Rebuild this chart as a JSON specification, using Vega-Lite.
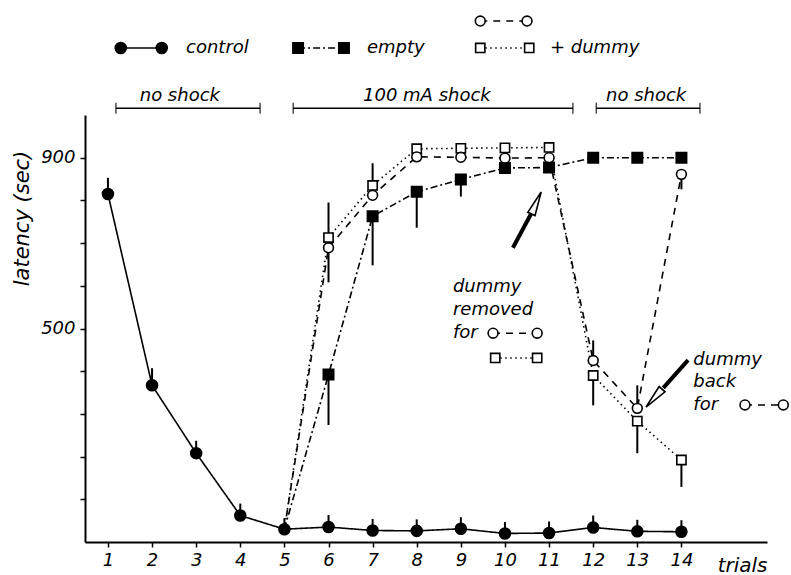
{
  "$schema": "https://vega.github.io/schema/vega-lite/v6.json",
  "width": 682,
  "height": 427,
  "autosize": {"type": "none"},
  "padding": {"left": 85, "top": 115, "right": 24, "bottom": 33},
  "background": "white",
  "config": {
    "view": {"stroke": null},
    "font": "DejaVu Sans",
    "axis": {
      "grid": false,
      "domainColor": "black",
      "domainWidth": 2,
      "tickColor": "black",
      "tickWidth": 1.5,
      "tickSize": 5,
      "labelFont": "DejaVu Sans",
      "labelFontStyle": "italic",
      "labelFontSize": 18,
      "labelColor": "black",
      "titleFont": "DejaVu Sans",
      "titleFontStyle": "italic",
      "titleFontWeight": "normal",
      "titleFontSize": 20,
      "titleColor": "black"
    },
    "text": {"font": "DejaVu Sans", "fontStyle": "italic", "fontSize": 18, "color": "black"}
  },
  "datasets": {
    "series": [
      {"group": "control", "trial": 1, "latency": 815, "err": 853},
      {"group": "control", "trial": 2, "latency": 367, "err": 407},
      {"group": "control", "trial": 3, "latency": 208, "err": 237},
      {"group": "control", "trial": 4, "latency": 62, "err": 90},
      {"group": "control", "trial": 5, "latency": 30, "err": 56},
      {"group": "control", "trial": 6, "latency": 35, "err": 63},
      {"group": "control", "trial": 7, "latency": 27, "err": 54},
      {"group": "control", "trial": 8, "latency": 26, "err": 53},
      {"group": "control", "trial": 9, "latency": 31, "err": 58},
      {"group": "control", "trial": 10, "latency": 20, "err": 47},
      {"group": "control", "trial": 11, "latency": 21, "err": 48},
      {"group": "control", "trial": 12, "latency": 34, "err": 62},
      {"group": "control", "trial": 13, "latency": 25, "err": 52},
      {"group": "control", "trial": 14, "latency": 24, "err": 51},
      {"group": "empty", "trial": 5, "latency": 30},
      {"group": "empty", "trial": 6, "latency": 392, "err": 274},
      {"group": "empty", "trial": 7, "latency": 763, "err": 648},
      {"group": "empty", "trial": 8, "latency": 820, "err": 736},
      {"group": "empty", "trial": 9, "latency": 849, "err": 809},
      {"group": "empty", "trial": 10, "latency": 876},
      {"group": "empty", "trial": 11, "latency": 877},
      {"group": "empty", "trial": 12, "latency": 900},
      {"group": "empty", "trial": 13, "latency": 900},
      {"group": "empty", "trial": 14, "latency": 900},
      {"group": "dummy_sq", "trial": 5, "latency": 30},
      {"group": "dummy_sq", "trial": 6, "latency": 713, "err": 795},
      {"group": "dummy_sq", "trial": 7, "latency": 835, "err": 887},
      {"group": "dummy_sq", "trial": 8, "latency": 921},
      {"group": "dummy_sq", "trial": 9, "latency": 922},
      {"group": "dummy_sq", "trial": 10, "latency": 923},
      {"group": "dummy_sq", "trial": 11, "latency": 924},
      {"group": "dummy_sq", "trial": 12, "latency": 390, "err": 320},
      {"group": "dummy_sq", "trial": 13, "latency": 283, "err": 208},
      {"group": "dummy_sq", "trial": 14, "latency": 192, "err": 129},
      {"group": "dummy_o", "trial": 5, "latency": 30},
      {"group": "dummy_o", "trial": 6, "latency": 689, "err": 608},
      {"group": "dummy_o", "trial": 7, "latency": 812},
      {"group": "dummy_o", "trial": 8, "latency": 902},
      {"group": "dummy_o", "trial": 9, "latency": 901},
      {"group": "dummy_o", "trial": 10, "latency": 899},
      {"group": "dummy_o", "trial": 11, "latency": 900},
      {"group": "dummy_o", "trial": 12, "latency": 425, "err": 472},
      {"group": "dummy_o", "trial": 13, "latency": 313, "err": 367},
      {"group": "dummy_o", "trial": 14, "latency": 861, "err": 826}
    ],
    "key": [
      {"seg": "k1", "group": "control", "trial": 1.29, "latency": 1157},
      {"seg": "k1", "group": "control", "trial": 2.22, "latency": 1157},
      {"seg": "k2", "group": "empty", "trial": 5.31, "latency": 1157},
      {"seg": "k2", "group": "empty", "trial": 6.35, "latency": 1157},
      {"seg": "k3", "group": "dummy_sq", "trial": 9.44, "latency": 1157},
      {"seg": "k3", "group": "dummy_sq", "trial": 10.55, "latency": 1157},
      {"seg": "k4", "group": "dummy_o", "trial": 9.44, "latency": 1220},
      {"seg": "k4", "group": "dummy_o", "trial": 10.5, "latency": 1220},
      {"seg": "k5", "group": "dummy_o", "trial": 9.73, "latency": 489},
      {"seg": "k5", "group": "dummy_o", "trial": 10.73, "latency": 489},
      {"seg": "k6", "group": "dummy_sq", "trial": 9.78, "latency": 431},
      {"seg": "k6", "group": "dummy_sq", "trial": 10.73, "latency": 431},
      {"seg": "k7", "group": "dummy_o", "trial": 15.44, "latency": 321},
      {"seg": "k7", "group": "dummy_o", "trial": 16.31, "latency": 321}
    ],
    "notes": [
      {"text": "control", "trial": 2.77, "latency": 1157},
      {"text": "empty", "trial": 6.87, "latency": 1157},
      {"text": "+ dummy", "trial": 11.02, "latency": 1157},
      {"text": "dummy", "trial": 8.82, "latency": 597},
      {"text": "removed", "trial": 8.82, "latency": 543},
      {"text": "for", "trial": 8.82, "latency": 489},
      {"text": "dummy", "trial": 14.27, "latency": 426},
      {"text": "back", "trial": 14.27, "latency": 375},
      {"text": "for", "trial": 14.27, "latency": 321}
    ],
    "phases": [
      {"label": "no shock", "start": 1.18, "end": 4.45, "labelAt": 2.63, "latency": 1016},
      {"label": "100 mA shock", "start": 5.2, "end": 11.54, "labelAt": 8.23, "latency": 1016},
      {"label": "no shock", "start": 12.07, "end": 14.42, "labelAt": 13.2, "latency": 1016}
    ],
    "arrows": [
      {"trial": 10.18, "latency": 689, "trial2": 10.59, "latency2": 768, "headTrial": 10.71, "headLatency": 794, "heading": 24},
      {"trial": 14.15, "latency": 426, "trial2": 13.59, "latency2": 361, "headTrial": 13.38, "headLatency": 337, "heading": 222}
    ]
  },
  "layer": [
    {
      "data": {"name": "series"},
      "mark": {"type": "line", "color": "black", "strokeWidth": 1.6},
      "encoding": {
        "x": {
          "field": "trial", "type": "quantitative",
          "scale": {"domain": [0.48, 15.94], "nice": false, "zero": false},
          "axis": {
            "values": [1, 2, 3, 4, 5, 6, 7, 8, 9, 10, 11, 12, 13, 14],
            "labelPadding": 4,
            "title": "trials",
            "titleX": 682, "titleY": 29,
            "titleAlign": "right", "titleBaseline": "alphabetic"
          }
        },
        "y": {
          "field": "latency", "type": "quantitative",
          "scale": {"domain": [0, 1000], "nice": false},
          "axis": {
            "values": [100, 200, 300, 400, 500, 600, 700, 800, 900],
            "labelExpr": "datum.value == 500 || datum.value == 900 ? datum.label : ''",
            "labelPadding": 5,
            "title": "latency (sec)",
            "titleFontSize": 21,
            "titleX": -63, "titleY": 103,
            "titleAlign": "center", "titleBaseline": "middle", "titleAngle": -90
          }
        },
        "detail": {"field": "group"},
        "strokeDash": {
          "field": "group", "type": "nominal",
          "scale": {"domain": ["control", "empty", "dummy_o", "dummy_sq"], "range": [[1, 0], [7, 3, 2, 3], [7, 6], [1.5, 3.5]]},
          "legend": null
        }
      }
    },
    {
      "data": {"name": "series"},
      "transform": [{"filter": "isValid(datum.err)"}],
      "mark": {"type": "rule", "color": "black", "strokeWidth": 2},
      "encoding": {
        "x": {"field": "trial", "type": "quantitative", "title": "trials"},
        "y": {"field": "latency", "type": "quantitative", "title": "latency (sec)"},
        "y2": {"field": "err"}
      }
    },
    {
      "data": {"name": "series"},
      "transform": [{"filter": "datum.group == 'control' || datum.trial > 5"}],
      "mark": {"type": "point", "stroke": "black", "strokeWidth": 1.6, "opacity": 1},
      "encoding": {
        "x": {"field": "trial", "type": "quantitative", "title": "trials"},
        "y": {"field": "latency", "type": "quantitative", "title": "latency (sec)"},
        "shape": {
          "field": "group", "type": "nominal",
          "scale": {"domain": ["control", "empty", "dummy_o", "dummy_sq"], "range": ["circle", "square", "circle", "square"]},
          "legend": null
        },
        "fill": {
          "field": "group", "type": "nominal",
          "scale": {"domain": ["control", "empty", "dummy_o", "dummy_sq"], "range": ["black", "black", "white", "white"]},
          "legend": null
        },
        "size": {
          "field": "group", "type": "nominal",
          "scale": {"domain": ["control", "empty", "dummy_o", "dummy_sq"], "range": [120, 85, 75, 80]},
          "legend": null
        }
      }
    },
    {
      "data": {"name": "key"},
      "mark": {"type": "line", "color": "black", "strokeWidth": 1.6},
      "encoding": {
        "x": {"field": "trial", "type": "quantitative", "title": "trials"},
        "y": {"field": "latency", "type": "quantitative", "title": "latency (sec)"},
        "detail": {"field": "seg"},
        "strokeDash": {"field": "group", "type": "nominal", "legend": null}
      }
    },
    {
      "data": {"name": "key"},
      "mark": {"type": "point", "stroke": "black", "strokeWidth": 1.6, "opacity": 1},
      "encoding": {
        "x": {"field": "trial", "type": "quantitative", "title": "trials"},
        "y": {"field": "latency", "type": "quantitative", "title": "latency (sec)"},
        "shape": {"field": "group", "type": "nominal", "legend": null},
        "fill": {"field": "group", "type": "nominal", "legend": null},
        "size": {"field": "group", "type": "nominal", "legend": null}
      }
    },
    {
      "data": {"name": "notes"},
      "mark": {"type": "text", "align": "left", "baseline": "middle"},
      "encoding": {
        "x": {"field": "trial", "type": "quantitative", "title": "trials"},
        "y": {"field": "latency", "type": "quantitative", "title": "latency (sec)"},
        "text": {"field": "text"}
      }
    },
    {
      "data": {"name": "phases"},
      "mark": {"type": "rule", "color": "black", "strokeWidth": 1.5},
      "encoding": {
        "x": {"field": "start", "type": "quantitative", "title": "trials"},
        "x2": {"field": "end"},
        "y": {"field": "latency", "type": "quantitative", "title": "latency (sec)"}
      }
    },
    {
      "data": {"name": "phases"},
      "transform": [{"fold": ["start", "end"], "as": ["side", "edge"]}],
      "mark": {"type": "tick", "orient": "vertical", "size": 11, "thickness": 1.5, "color": "black"},
      "encoding": {
        "x": {"field": "edge", "type": "quantitative", "title": "trials"},
        "y": {"field": "latency", "type": "quantitative", "title": "latency (sec)"}
      }
    },
    {
      "data": {"name": "phases"},
      "mark": {"type": "text", "align": "center", "baseline": "middle", "dy": -12},
      "encoding": {
        "x": {"field": "labelAt", "type": "quantitative", "title": "trials"},
        "y": {"field": "latency", "type": "quantitative", "title": "latency (sec)"},
        "text": {"field": "label"}
      }
    },
    {
      "data": {"name": "arrows"},
      "mark": {"type": "rule", "color": "black", "strokeWidth": 4, "strokeCap": "butt"},
      "encoding": {
        "x": {"field": "trial", "type": "quantitative", "title": "trials"},
        "y": {"field": "latency", "type": "quantitative", "title": "latency (sec)"},
        "x2": {"field": "trial2"},
        "y2": {"field": "latency2"}
      }
    },
    {
      "data": {"name": "arrows"},
      "mark": {"type": "point", "shape": "M0,-1L0.33,1L-0.33,1Z", "size": 576, "fill": "white", "stroke": "black", "strokeWidth": 1.6, "opacity": 1},
      "encoding": {
        "x": {"field": "headTrial", "type": "quantitative", "title": "trials"},
        "y": {"field": "headLatency", "type": "quantitative", "title": "latency (sec)"},
        "angle": {"field": "heading", "type": "quantitative", "scale": null}
      }
    }
  ]
}
